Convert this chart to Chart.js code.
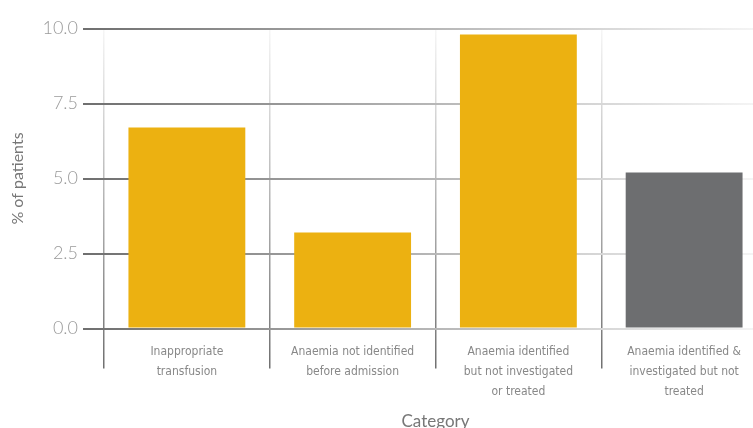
<!DOCTYPE html>
<html>
<head>
<meta charset="utf-8">
<script src="https://cdn.jsdelivr.net/npm/chart.js@4"></script>
<style>
  html, body { margin: 0; padding: 0; background: #ffffff; overflow: hidden; }
  #wrap { width: 753px; height: 428px; overflow: hidden; position: relative; }
  canvas { display: block; }
</style>
</head>
<body>
<div id="wrap"><canvas id="c" width="780" height="440"></canvas></div>
<script>
const categories = [
  ["Inappropriate", "transfusion"],
  ["Anaemia not identified", "before admission"],
  ["Anaemia identified", "but not investigated", "or treated"],
  ["Anaemia identified &", "investigated but not", "treated"]
];
const values = [6.7, 3.2, 9.8, 5.2];
const barColors = ["#ECB111", "#ECB111", "#ECB111", "#6D6E70"];
const yTicks = [0, 2.5, 5, 7.5, 10];
const yTitle = "% of patients";
const xTitle = "Category";

let hGradCache = null, vGradCache = null;
function hGrad(ctx) {
  const chart = ctx.chart;
  const area = chart.chartArea;
  if (!area) return '#999';
  if (!hGradCache) {
    const g = chart.ctx.createLinearGradient(area.left - 21, 0, 753, 0);
    g.addColorStop(0, '#6f6f6f');
    g.addColorStop(0.5, '#b4b4b4');
    g.addColorStop(1, '#f4f4f4');
    hGradCache = g;
  }
  return hGradCache;
}
function vGrad(ctx) {
  const chart = ctx.chart;
  const area = chart.chartArea;
  if (!area) return '#999';
  if (!vGradCache) {
    const g = chart.ctx.createLinearGradient(0, area.top, 0, area.bottom + 40);
    g.addColorStop(0, '#f6f6f6');
    g.addColorStop(0.5, '#b4b4b4');
    g.addColorStop(1, '#707070');
    vGradCache = g;
  }
  return vGradCache;
}

new Chart(document.getElementById('c'), {
  type: 'bar',
  data: {
    labels: categories,
    datasets: [{
      data: values,
      backgroundColor: barColors,
      borderWidth: 0,
      categoryPercentage: 1.0,
      barPercentage: 0.705
    }]
  },
  options: {
    responsive: false,
    animation: false,
    devicePixelRatio: 1,
    layout: { padding: { top: 28.5, left: 0, right: 13, bottom: 0 } },
    plugins: { legend: { display: false }, tooltip: { enabled: false } },
    scales: {
      x: {
        z: 1,
        offset: true,
        border: { display: false },
        grid: {
          offset: true,
          color: vGrad,
          lineWidth: 1.5,
          tickLength: 40,
          drawTicks: true
        },
        ticks: {
          padding: -27,
          maxRotation: 0,
          autoSkip: false,
          color: '#888888',
          font: { family: "'Liberation Sans Narrow', 'DejaVu Sans Condensed', sans-serif", size: 12, lineHeight: 1.667 }
        },
        title: {
          display: true,
          text: xTitle,
          color: '#777777',
          font: { family: "Lato, 'Noto Sans', sans-serif", size: 17, lineHeight: 1.2 },
          padding: { top: 0, bottom: 8 }
        },
        afterFit: (scale) => { scale.height = 440 - 328.5; }
      },
      y: {
        z: 1,
        min: 0,
        max: 10,
        border: { display: false },
        afterBuildTicks: (scale) => { scale.ticks = yTicks.map(v => ({ value: v })); },
        grid: {
          color: hGrad,
          lineWidth: 2,
          tickLength: 21,
          drawTicks: true
        },
        ticks: {
          padding: 5,
          color: '#9a9a9a',
          font: { family: "Lato, 'Noto Sans', sans-serif", size: 18, weight: '300' },
          callback: (v) => Number(v).toFixed(1)
        },
        title: {
          display: true,
          text: yTitle,
          color: '#777777',
          font: { family: "Lato, 'Noto Sans', sans-serif", size: 16, lineHeight: 1.2 },
          padding: { top: 8, bottom: 0 }
        },
        afterFit: (scale) => { scale.width = 104; }
      }
    }
  }
});
</script>
</body>
</html>
